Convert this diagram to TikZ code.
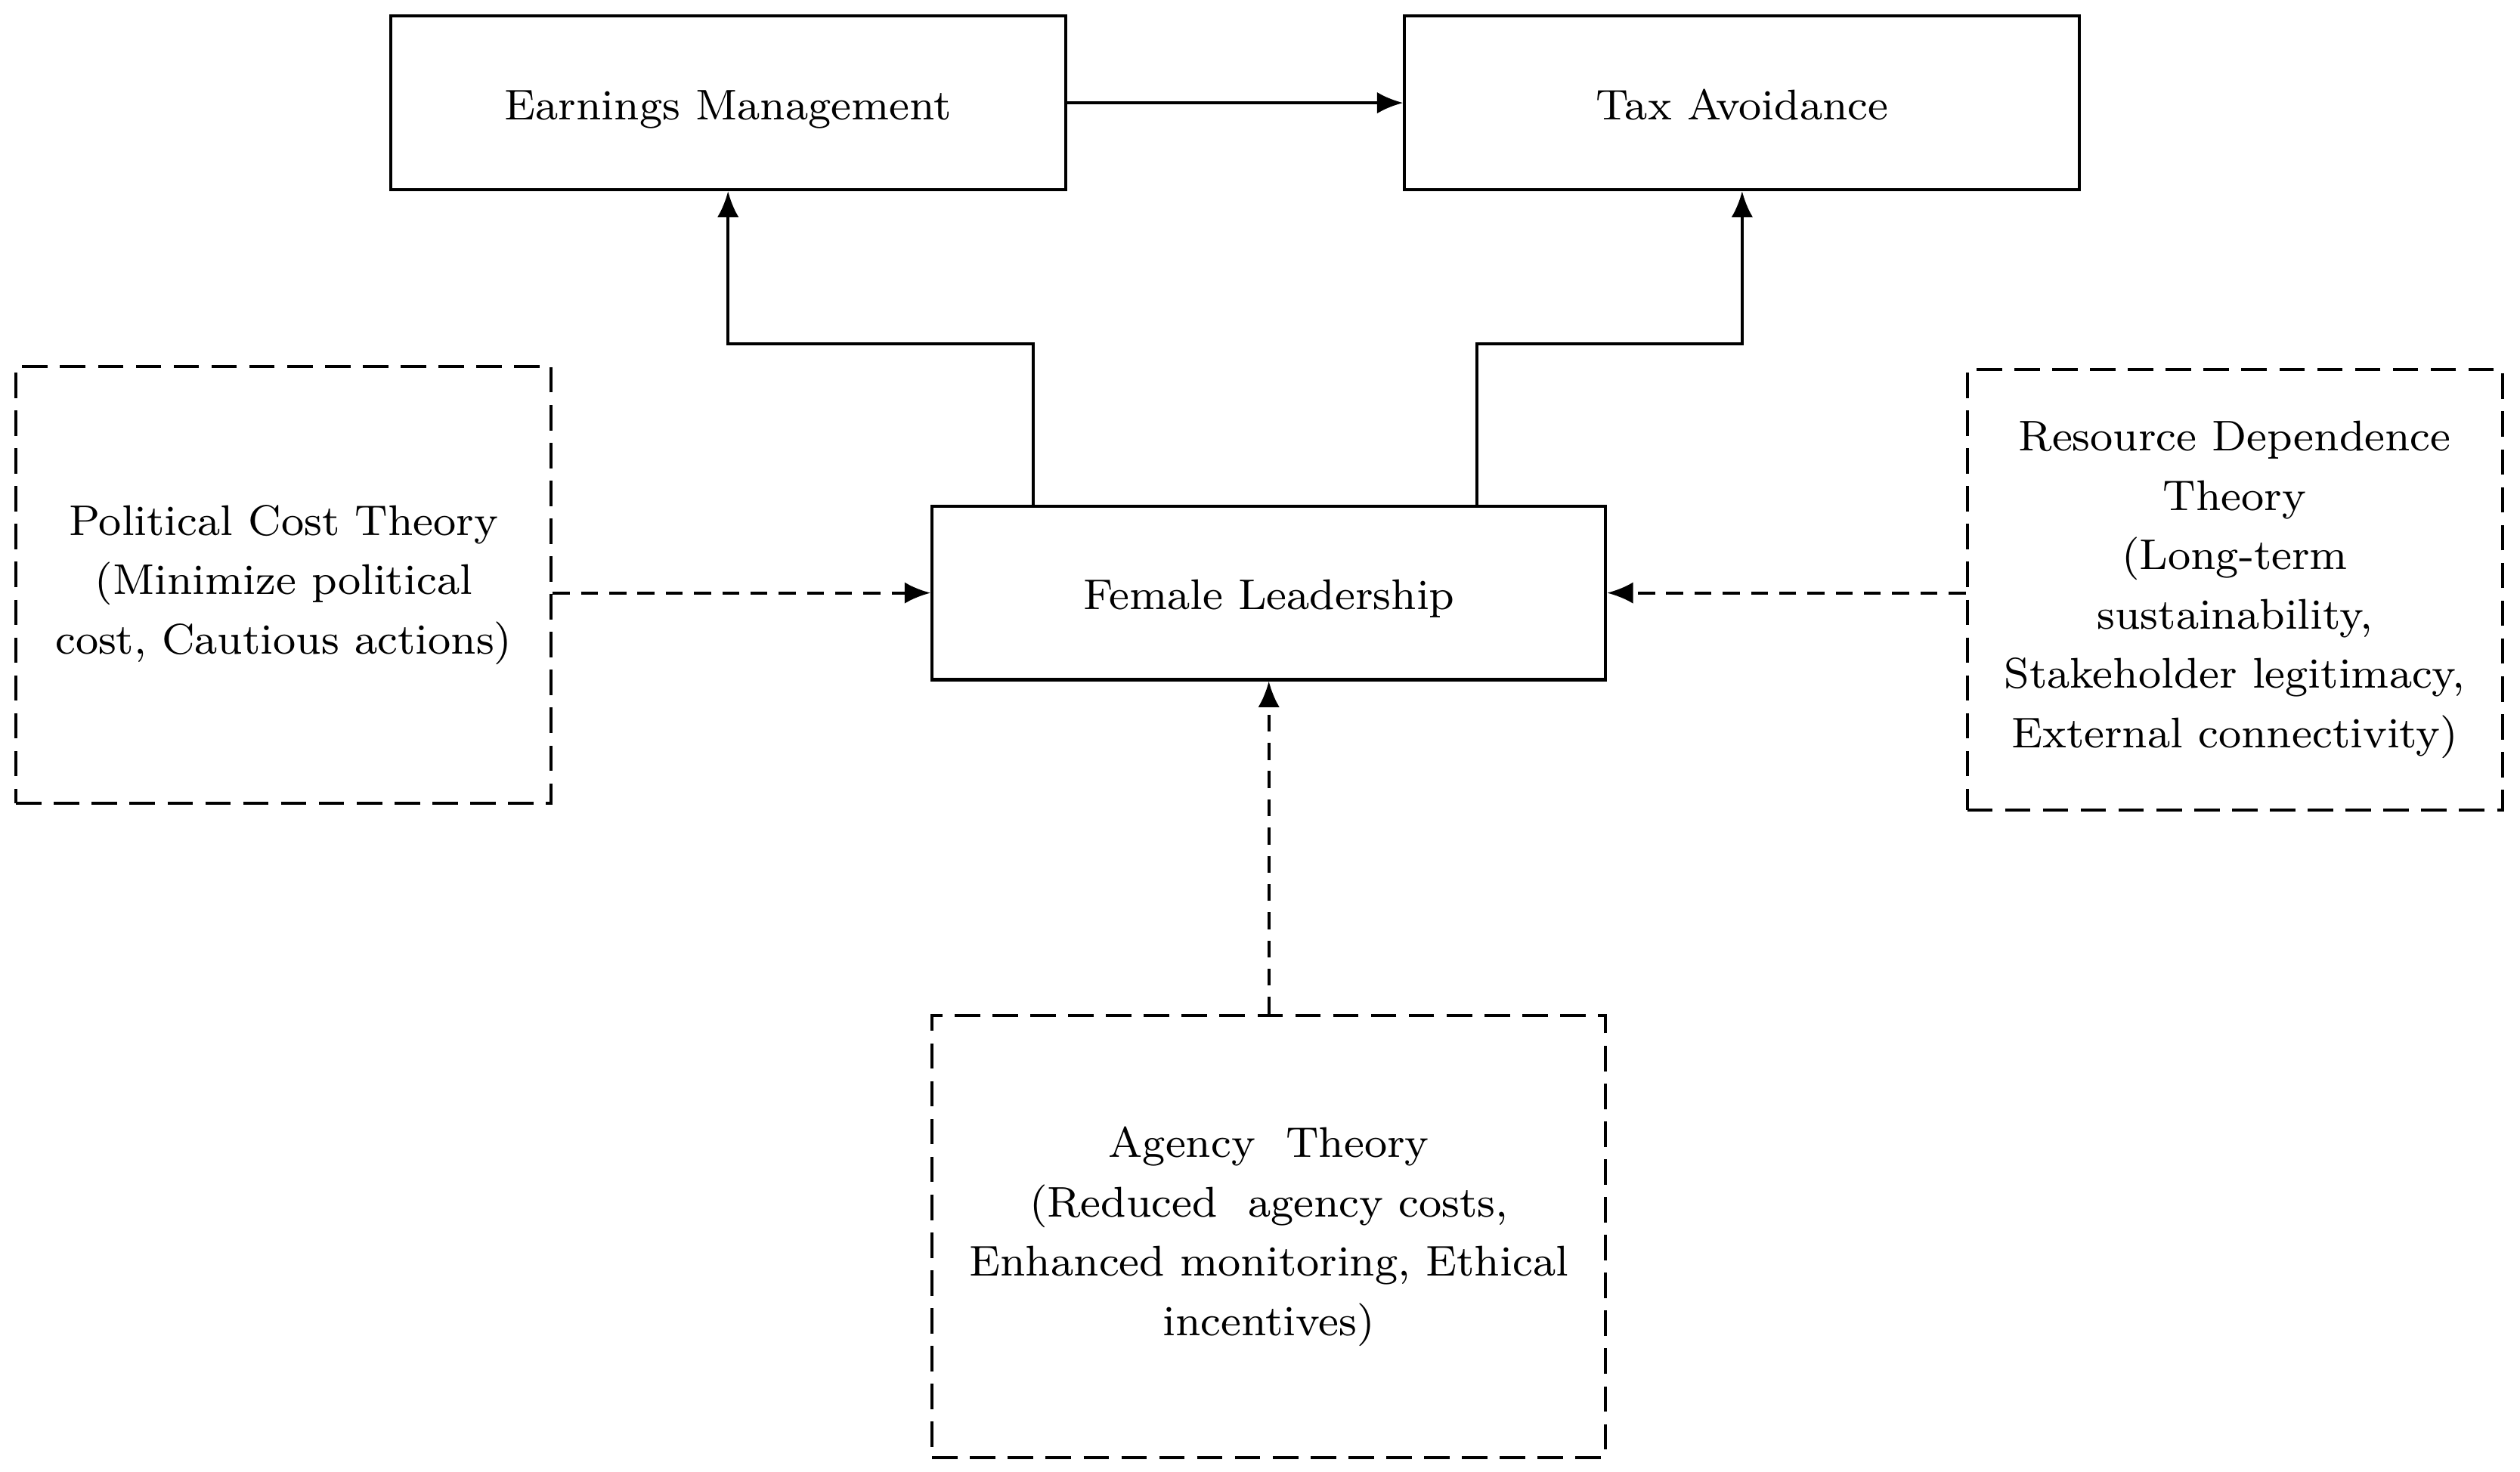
\documentclass[tikz,border=0pt]{standalone}
\usepackage{tikz}
\usetikzlibrary{arrows.meta,calc,positioning,shapes}
\tikzset{>={Latex[length=4.6pt,width=3.8pt]}}
\tikzset{box/.style={draw, line width=0.55pt, align=center, inner sep=0pt, font=\fontsize{7.6}{10.5}\selectfont}}
\tikzset{theorybox/.style={box, dash pattern=on 4.5pt off 2.2pt}}
\tikzset{link/.style={->, line width=0.55pt}}
\tikzset{dashlink/.style={->, line width=0.55pt, dash pattern=on 3pt off 2pt}}

\begin{document}
\begin{tikzpicture}[x=0.1mm,y=-0.1mm]
      \useasboundingbox (0,0) rectangle (1568,916);
      \node[box, minimum width=42mm, minimum height=10.8mm, text height=2.6mm, text depth=0.5mm] (em) at (453,64) {Earnings Management};
      \node[box, minimum width=42mm, minimum height=10.8mm, text height=2.6mm, text depth=0.5mm] (ta) at (1084,64) {Tax Avoidance};
      \node[box, minimum width=41.9mm, minimum height=10.8mm, text height=2.6mm, text depth=0.5mm] (fl) at (789.5,369) {Female Leadership};
      \node[theorybox, minimum width=33.3mm, minimum height=27.2mm] (pct) at (176.5,364)
           {Political Cost Theory\\(Minimize political\\cost, Cautious actions)};
      \node[theorybox, minimum width=33.3mm, minimum height=27.4mm] (rdt) at (1390.5,367)
           {Resource Dependence\\Theory\\(Long-term\\sustainability,\\Stakeholder legitimacy,\\External connectivity)};
      \node[theorybox, minimum width=41.9mm, minimum height=27.5mm] (at) at (789.5,769.5)
           {Agency~ Theory\\(Reduced~ agency costs,\\Enhanced monitoring, Ethical\\incentives)};
      \draw[link] (em) -- (ta);
      \draw[link] ([xshift=6.4mm]fl.north west) -- ++(0,-100) -| (em.south);
      \draw[link] ([xshift=-8.1mm]fl.north east) -- ++(0,-100) -| (ta.south);
      \draw[dashlink] (pct.east |- fl.west) -- (fl.west);
      \draw[dashlink] (rdt.west |- fl.east) -- (fl.east);
      \draw[dashlink] (at.north) -- (fl.south);
    \end{tikzpicture}
\end{document}
